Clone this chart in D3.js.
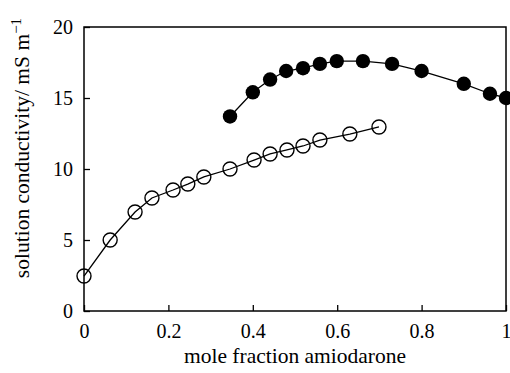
<!DOCTYPE html>
<html lang="en">
<head>
<meta charset="UTF-8">
<title>Conductivity</title>
<script src="https://cdn.jsdelivr.net/npm/d3@7"></script>
<style>
  body { margin: 0; background: #fff; }
  text { font-family: "Liberation Serif", "Times New Roman", serif; fill: #000; }
</style>
</head>
<body>
<svg width="510" height="373"></svg>
<script>
  // open circles
  let openX = [0, 0.062, 0.121, 0.161, 0.211, 0.246, 0.284, 0.346, 0.403, 0.441, 0.481, 0.519, 0.559, 0.63, 0.699];
  let openY = [2.46, 5.0, 6.97, 7.96, 8.52, 8.94, 9.44, 10.0, 10.63, 11.06, 11.34, 11.62, 12.04, 12.46, 12.96];
  // filled circles
  let fillX = [0.346, 0.400, 0.441, 0.479, 0.519, 0.559, 0.599, 0.661, 0.730, 0.800, 0.900, 0.962, 1.0];
  let fillY = [13.7, 15.4, 16.3, 16.9, 17.1, 17.4, 17.6, 17.6, 17.4, 16.9, 16.0, 15.3, 15.0];
  let xTicks = [0, 0.2, 0.4, 0.6, 0.8, 1];
  let yTicks = [0, 5, 10, 15, 20];

  let svg = d3.select('svg');
  let mLeft = 84, mRight = 506, mTop = 27, mBottom = 311;

  let scaleX = d3.scaleLinear().domain([0, 1]).range([mLeft, mRight]);
  let scaleY = d3.scaleLinear().domain([0, 20]).range([mBottom, mTop]);

  // frame
  svg.append('rect')
      .attr('x', mLeft).attr('y', mTop)
      .attr('width', mRight - mLeft).attr('height', mBottom - mTop)
      .attr('fill', 'none').attr('stroke', '#000').attr('stroke-width', 1.5);

  // axes, ticks pointing inward
  let xAxis = svg.append('g')
      .attr('transform', 'translate(0,' + mBottom + ')')
      .call(d3.axisBottom(scaleX).tickValues(xTicks).tickSizeInner(-6).tickSizeOuter(0)
          .tickPadding(13).tickFormat(d => d === 0 || d === 1 ? d3.format('d')(d) : d3.format('.1f')(d)));
  let yAxis = svg.append('g')
      .attr('transform', 'translate(' + mLeft + ',0)')
      .call(d3.axisLeft(scaleY).tickValues(yTicks).tickSizeInner(-6).tickSizeOuter(0).tickPadding(11));
  [xAxis, yAxis].forEach(function (a) {
      a.select('.domain').remove();
      a.selectAll('line').attr('stroke', '#000').attr('stroke-width', 1.3);
      a.selectAll('text').style('font-size', '20px').attr('fill', '#000');
  });

  let line = d3.line().x(d => scaleX(d[0])).y(d => scaleY(d[1]));
  let openData = d3.zip(openX, openY);
  let fillData = d3.zip(fillX, fillY);

  svg.append('path').datum(openData).attr('d', line)
      .attr('fill', 'none').attr('stroke', '#000').attr('stroke-width', 1.3);
  svg.append('path').datum(fillData).attr('d', line)
      .attr('fill', 'none').attr('stroke', '#000').attr('stroke-width', 1.3);

  svg.append('g').selectAll('circle')
      .data(openData)
      .enter()
      .append('circle')
      .attr('cx', d => scaleX(d[0]))
      .attr('cy', d => scaleY(d[1]))
      .attr('r', 7)
      .attr('fill', 'none')
      .attr('stroke', '#000')
      .attr('stroke-width', 1.4);

  svg.append('g').selectAll('circle')
      .data(fillData)
      .enter()
      .append('circle')
      .attr('cx', d => scaleX(d[0]))
      .attr('cy', d => scaleY(d[1]))
      .attr('r', 7.2)
      .attr('fill', '#000');

  // axis titles
  svg.append('text')
      .attr('x', 295).attr('y', 363)
      .attr('text-anchor', 'middle')
      .style('font-size', '21.5px')
      .text('mole fraction amiodarone');

  let yl = svg.append('text')
      .attr('transform', 'translate(29,148) rotate(-90)')
      .attr('text-anchor', 'middle')
      .style('font-size', '21.5px');
  yl.append('tspan').text('solution conductivity/ mS m');
  yl.append('tspan').attr('dy', -8).style('font-size', '15px').text('\u22121');
</script>
</body>
</html>
